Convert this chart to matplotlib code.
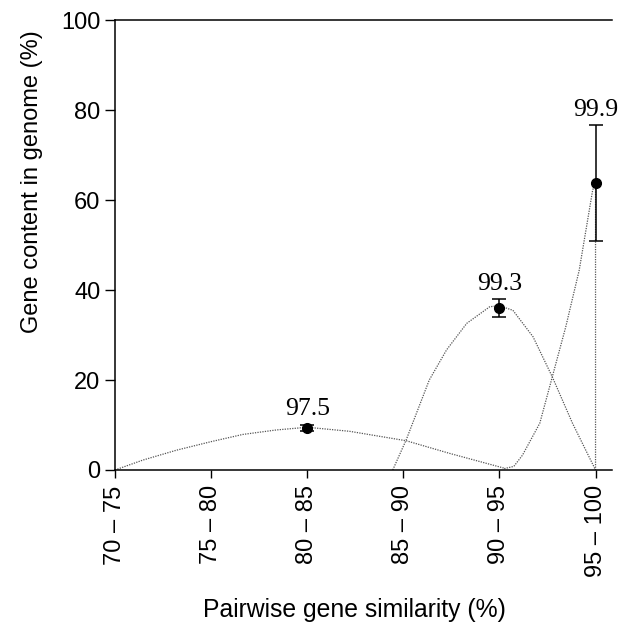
import matplotlib
matplotlib.use("Agg")
import matplotlib.pyplot as plt
import numpy as np

# bins on the x axis
bins = ["70 \u2013 75", "75 \u2013 80", "80 \u2013 85", "85 \u2013 90", "90 \u2013 95", "95 \u2013 100"]

# mean points with error bars
pt_x = [2, 4, 5]
pt_y = [9.4, 36.0, 63.8]
pt_err = [0.7, 1.9, 12.9]
pt_labels = ["97.5", "99.3", "99.9"]

# dotted distribution curves
c1_x = [0, 0.29, 0.64, 1.0, 1.33, 1.68, 2.0, 2.44, 3.03, 3.48, 4.05]
c1_y = [0, 2.2, 4.4, 6.3, 7.9, 8.9, 9.5, 8.6, 6.5, 3.7, 0.4]
c2_x = [2.89, 3.03, 3.27, 3.45, 3.66, 3.9, 4.0, 4.14, 4.35, 4.55, 4.76, 5.0]
c2_y = [0, 6.7, 20.0, 26.7, 32.6, 36.3, 36.5, 35.5, 29.6, 20.7, 10.4, 0]
c3_x = [4.05, 4.15, 4.24, 4.42, 4.55, 4.69, 4.83, 4.97, 5.0, 5.0]
c3_y = [0.3, 0.8, 3.3, 10.4, 20.7, 31.8, 44.4, 62.2, 64.0, 0]

plt.rcParams["font.family"] = ["Liberation Sans", "DejaVu Sans"]

fig = plt.figure(figsize=(6.25, 6.3), dpi=100)
ax = fig.add_axes([0.184, 0.254, 0.795, 0.714])

dot = dict(color="#555555", lw=0.9, ls=(0, (1, 1)))
ax.plot(c1_x, c1_y, **dot)
ax.plot(c2_x, c2_y, **dot)
ax.plot(c3_x, c3_y, **dot)

ax.errorbar(pt_x, pt_y, yerr=pt_err, fmt="o", color="black", ms=7,
            ecolor="black", elinewidth=1.1, capsize=5, capthick=1.1, zorder=3)

for x, y, e, lab in zip(pt_x, pt_y, pt_err, pt_labels):
    ax.annotate(lab, (x, y + e), xytext=(0, 3), textcoords="offset points",
                ha="center", va="bottom", fontsize=18.5,
                family=["Liberation Serif", "DejaVu Serif"])

ax.set_xlim(0, 5.17)
ax.set_ylim(0, 100)
ax.set_xticks(range(len(bins)))
ax.set_xticklabels(bins, rotation=90, fontsize=17)
ax.set_yticks([0, 20, 40, 60, 80, 100])
ax.tick_params(axis="y", labelsize=17, direction="out", length=7, width=1)
ax.tick_params(axis="x", direction="out", length=6, width=1, pad=5)

ax.spines["right"].set_visible(False)
for s in ["left", "bottom", "top"]:
    ax.spines[s].set_linewidth(1.1)

ax.set_xlabel("Pairwise gene similarity (%)", fontsize=17.8)
ax.set_ylabel("Gene content in genome (%)", fontsize=17)
ax.xaxis.set_label_coords(0.482, -0.285)
ax.yaxis.set_label_coords(-0.145, 0.64)

fig.savefig("out.png", dpi=100)
